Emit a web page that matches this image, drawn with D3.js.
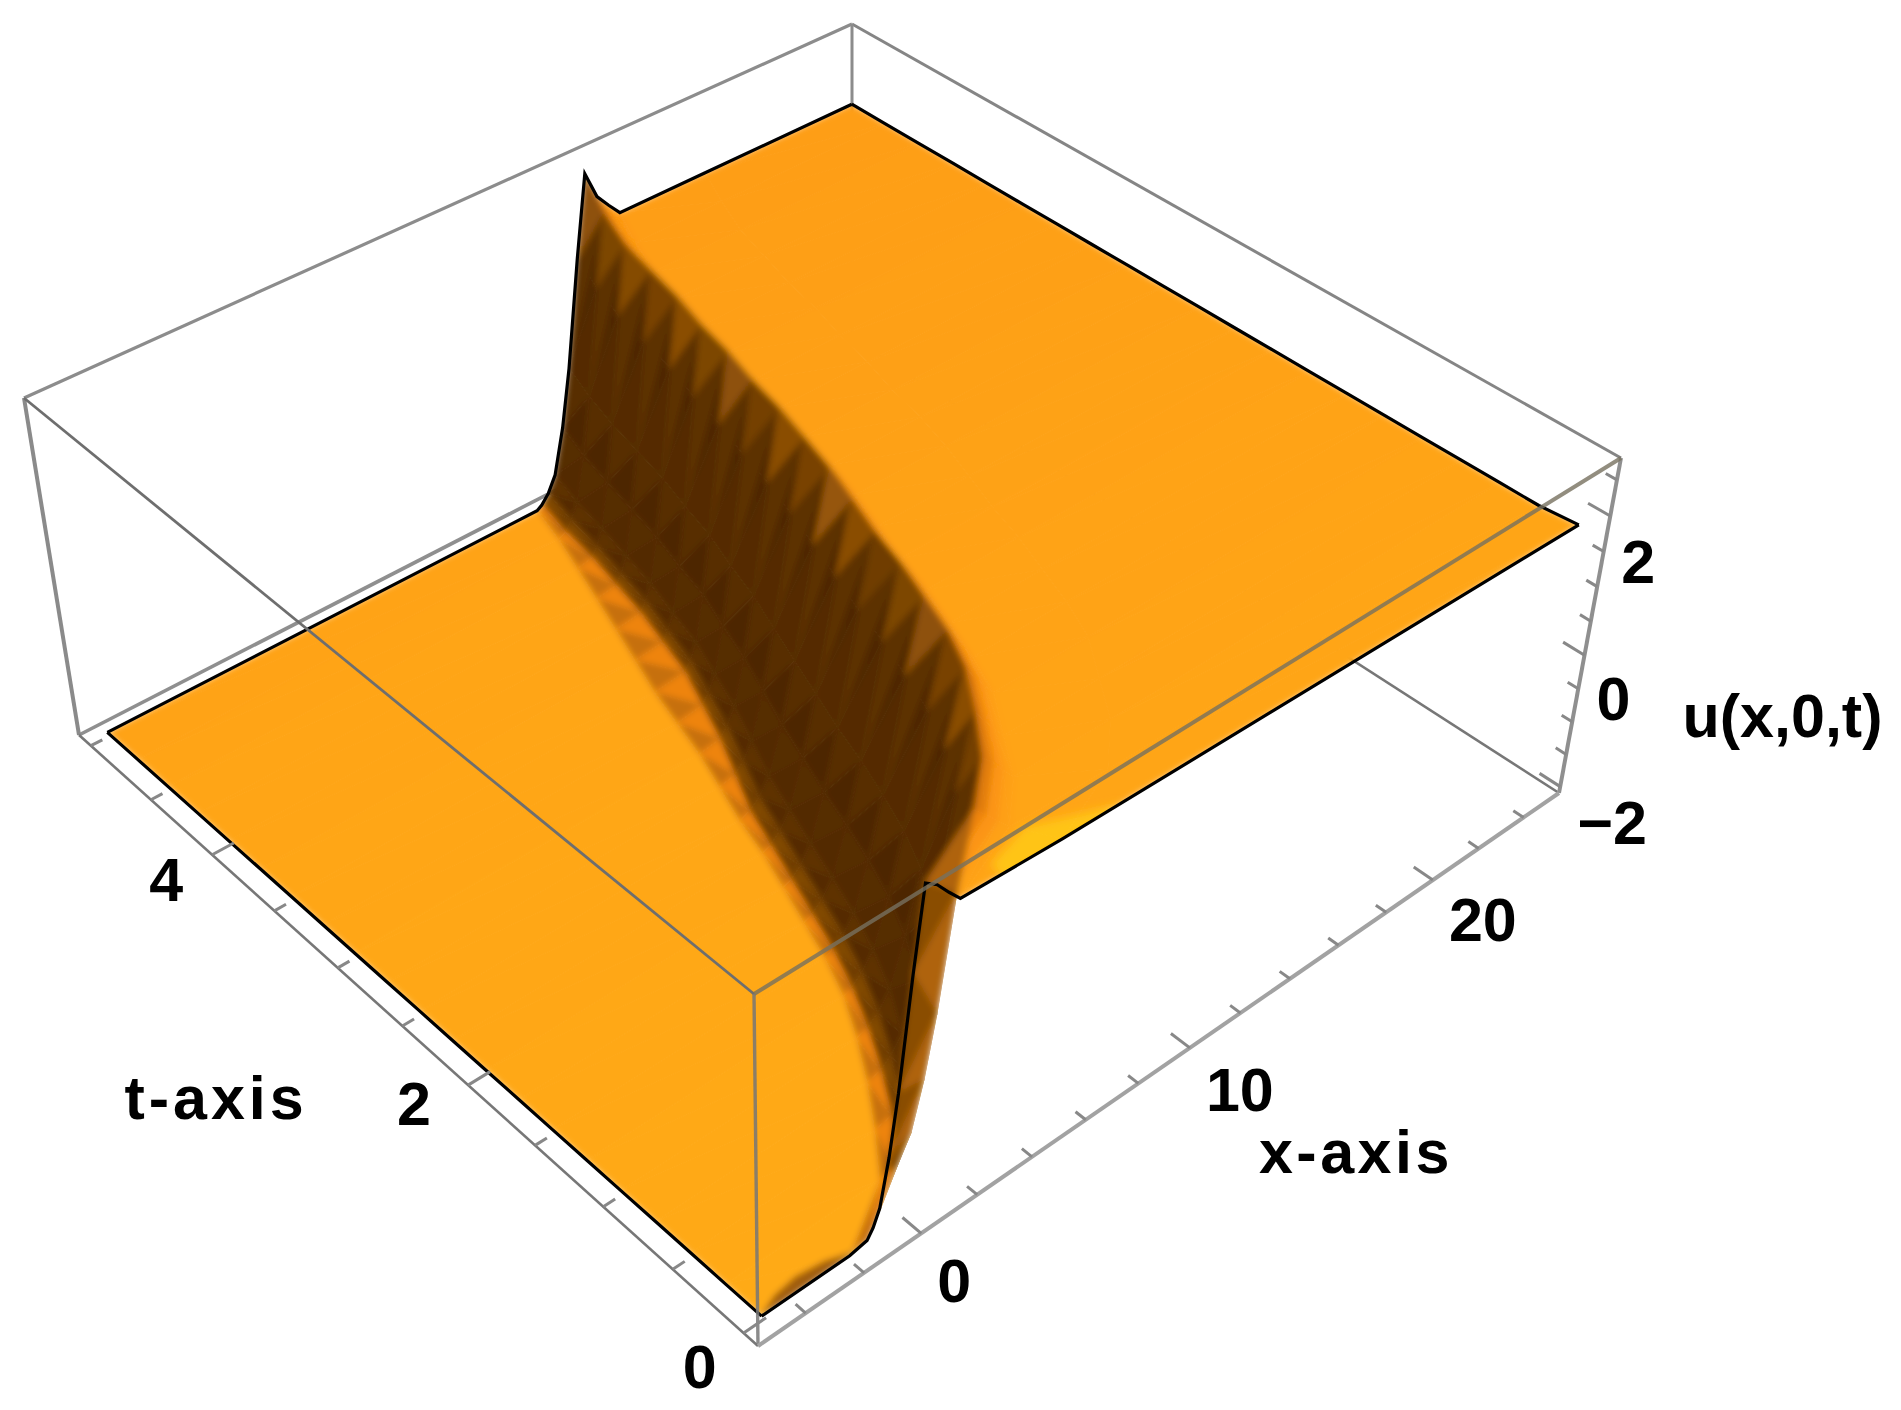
<!DOCTYPE html>
<html>
<head>
<meta charset="utf-8">
<script src="https://d3js.org/d3.v7.min.js"></script>
<style>
  body { margin: 0; background: #fff; }
  text { font-family: "Liberation Sans", Arial, sans-serif; font-weight: bold; font-size: 61px; fill: #000; }
</style>
</head>
<body>
<div id="chart"></div>
<script>
// rows of the surface
var tRows = [0, 0.25, 0.5, 0.75, 1, 1.25, 1.5, 1.75, 2, 2.25, 2.5, 2.75, 3, 3.25, 3.5, 3.75, 4, 4.25, 4.5, 4.75, 5];
// x where the shading begins, where the front lifts, where it peaks and where it reaches the upper plateau
var shadeFoot = [-2.0, 0.3, 1.4, 2.4, 3.3, 4.1, 4.7, 5.2, 5.7, 6.2, 6.6, 7.1, 7.6, 8.0, 8.4, 8.9, 9.4, 9.9, 10.4, 10.9, 11.3];
var kinkFoot = [-1.4, 0.8, 2.0, 2.9, 3.7, 4.4, 5.0, 5.5, 6.0, 6.5, 7.0, 7.7, 8.4, 9.0, 9.6, 10.0, 10.4, 10.7, 11.0, 11.2, 11.5];
var kinkPeak = [0.3, 3.2, 4.8, 5.9, 6.9, 7.6, 8.1, 8.6, 9.0, 9.5, 10.0, 10.4, 10.8, 11.1, 11.5, 11.8, 12.2, 12.5, 12.8, 13.3, 13.9];
var kinkTop = [1.5, 4.5, 6.0, 7.0, 8.0, 8.6, 9.1, 9.6, 10.0, 10.5, 11.0, 11.4, 11.7, 12.1, 12.4, 12.8, 13.1, 13.5, 13.9, 14.5, 15.2];
// extra height of the crest on the end rows
var peakLift = [0.18, 0.05, 0, 0, 0, 0, 0, 0, 0, 0, 0, 0, 0, 0, 0, 0, 0, 0, 0, 0.05, 0.2];
var crestLift = [0.26, 0.1, 0.05, 0, 0, 0, 0, 0, 0, 0, 0, 0, 0, 0, 0, 0, 0, 0, 0, 0, 0];
var shoulderLift = [0.2, 0.05, 0.02, 0, 0, 0, 0, 0, 0, 0, 0, 0, 0, 0, 0, 0, 0, 0, 0, 0, 0];
// height of the surface across the front
var footFrac = [0, 0.12, 0.25, 0.42, 0.58, 0.81, 1];
var footU = [-1.98, -1.85, -1.62, -0.95, -0.1, 1.45, 2.4];
var crestFrac = [0.33, 0.67, 1];
var crestU = [2.2, 2.0, 1.82];
var xEdges = [-5, 25];
var lowU = -2.03, highU = 1.82;
// darkness of the two triangles of each quad, low x to high x
var shadeA = [0, 0.46, 0.84, 0.97, 0.98, 1, 0.97, 1, 0.35, 0.15, 0.04, 0, 0];
var shadeB = [0, 0.3, 0.76, 0.92, 0.96, 0.95, 1, 0.96, 0.35, 0.15, 0.04, 0, 0];
// how light the notch between two teeth is, one value per strip
var notchShade = [0.7, 0.8, 0.82, 0.72, 0.8, 0.7, 0.78, 0.84, 0.72, 0.66, 0.8, 0.72, 0.82, 0.7, 0.78, 0.72, 0.8, 0.74, 0.78, 0.7];
// ticks
var xTicks = [-4, -2, 0, 2, 4, 6, 8, 10, 12, 14, 16, 18, 20, 22, 24];
var xLabels = [0, 10, 20];
var tTicks = [0, 0.5, 1, 1.5, 2, 2.5, 3, 3.5, 4, 4.5, 5];
var tLabels = [0, 2, 4];
var uTicks = [-2, -1.5, -1, -0.5, 0, 0.5, 1, 1.5, 2, 2.5];
var uLabels = [-2, 0, 2];
// shadow along the front edge next to the corner
var shadowX = [-5, -4.3, -3.5, -2.6, -1.8];
var shadowT = [0, 0.05, 0.07, 0.05, 0];
// bright patch on the plateau by the front edge
var glowX = [3.2, 3.4, 5, 7.4, 5.5];
var glowT = [0, 0.16, 0.24, 0.06, -0.04];

var width = 1901, height = 1410;

var svg = d3.select("#chart").append("svg")
  .attr("width", width)
  .attr("height", height);

var xPos = d3.scaleLinear().domain([-5.6, 25.6]).range([0, 1]);
var tPos = d3.scaleLinear().domain([-0.1, 5.1]).range([0, 1]);
var uPos = d3.scaleLinear().domain([-2.1, 2.8]).range([0, 1]);

var darkness = d3.scaleLinear()
  .domain([-1, 0, 0.25, 0.6, 1])
  .range(["#ffc419", "#ffa514", "#fa8a10", "#a35e08", "#4e2802"]);
var plateauTint = d3.scaleLinear().domain([0, 5]).range([0, 0.07]);
var lowTint = d3.scaleLinear().domain([0, 5]).range([-0.15, 0.03]);

// box corners on the page, index [x][t][u]
var corners = [
  [[[758, 1346], [754, 994]], [[79, 735], [24, 398]]],
  [[[1559, 793], [1621, 458]], [[852, 338], [852, 24]]]
];

function project(x, t, u) {
  var X = xPos(x), T = tPos(t), U = uPos(u);
  var sx = 0, sy = 0, sw = 0;
  for (var i = 0; i < 2; i++) for (var j = 0; j < 2; j++) for (var k = 0; k < 2; k++) {
    var b = (i ? X : 1 - X) * (j ? T : 1 - T) * (k ? U : 1 - U);
    var w = b * (1 + 0.17 * i + 0.1 * j - 0.08 * k);
    sx += w * corners[i][j][k][0];
    sy += w * corners[i][j][k][1];
    sw += w;
  }
  return [sx / sw, sy / sw];
}

// columns of one row as [x, u]
function rowColumns(r) {
  var cols = [[xEdges[0], lowU], [shadeFoot[r], lowU]];
  footFrac.forEach(function(f, n) {
    var lift = n == footFrac.length - 1 ? peakLift[r] : 0;
    cols.push([kinkFoot[r] + f * (kinkPeak[r] - kinkFoot[r]), footU[n] + lift]);
  });
  crestFrac.forEach(function(f, n) {
    cols.push([kinkPeak[r] + f * (kinkTop[r] - kinkPeak[r]), crestU[n] + crestLift[r]]);
  });
  cols.push([kinkTop[r] + 3.5, highU + shoulderLift[r]]);
  cols.push([xEdges[1], highU + (r == 0 ? 0.05 : 0)]);
  return cols;
}

var rows = tRows.map(function(t, r) {
  return rowColumns(r).map(function(c) { return project(c[0], t, c[1]); });
});

// build triangles, far strip first, high x first
var tris = [];
for (var s = tRows.length - 2; s >= 0; s--) {
  var near = rows[s], far = rows[s + 1];
  for (var j = near.length - 2; j >= 0; j--) {
    var a = shadeA[j], b = shadeB[j];
    if (j >= 10) { a += plateauTint(tRows[s]); b += plateauTint(tRows[s]); }
    if (j == 0) { a = lowTint(tRows[s]); b = a; }
    // the strip next to the front edge is lit more
    if (s == 0 && j >= 3 && j <= 7) { a = 0.72; b = 0.55; }
    if (s == 0 && j == 8) { a = 0.45; b = 0.3; }
    tris.push({pts: [near[j + 1], far[j], far[j + 1]], shade: b});
    tris.push({pts: [near[j], near[j + 1], far[j]], shade: a});
  }
  // lighter wedges between the dark teeth
  if (s > 0) {
    tris.push({pts: [near[8], far[8], far[6]], shade: 0.93});
    tris.push({pts: [near[8], far[8], far[7]], shade: notchShade[s]});
  }
}
shadowX.forEach(function(x, n) {
  if (n == shadowX.length - 1) return;
  tris.push({pts: [project(x, 0, lowU), project(x, shadowT[n], lowU),
    project(shadowX[n + 1], shadowT[n + 1], lowU), project(shadowX[n + 1], 0, lowU)], shade: 0.62});
});

var pathOf = function(d) { return "M" + d.pts.map(function(p) { return p.join(","); }).join("L") + "Z"; };

var defs = svg.append("defs");
function blur(id, dev) {
  defs.append("filter").attr("id", id)
    .attr("filterUnits", "userSpaceOnUse")
    .attr("x", 0).attr("y", 0).attr("width", width).attr("height", height)
    .append("feGaussianBlur").attr("stdDeviation", dev);
}
blur("soft", 3);
blur("glow", 5);
blur("textSoft", 0.7);
// a mask and not a clip path, the strokes close the seams between triangles
defs.append("mask").attr("id", "surfaceMask")
  .attr("maskUnits", "userSpaceOnUse")
  .attr("x", 0).attr("y", 0).attr("width", width).attr("height", height)
  .selectAll("path").data(tris).enter().append("path")
  .attr("d", pathOf)
  .style("fill", "#fff").style("stroke", "#fff").style("stroke-width", 1);

function boxLine(g, c1, c2, color, w, op) {
  var p = corners[c1[0]][c1[1]][c1[2]], q = corners[c2[0]][c2[1]][c2[2]];
  g.append("line")
    .attr("x1", p[0]).attr("y1", p[1]).attr("x2", q[0]).attr("y2", q[1])
    .style("stroke", color).style("stroke-width", w).style("stroke-opacity", op || 1);
}

// box edges behind the surface
var back = svg.append("g");
boxLine(back, [1, 1, 1], [0, 1, 1], "#8c8c8c", 3.2);
boxLine(back, [1, 1, 1], [1, 0, 1], "#858585", 3);
boxLine(back, [1, 1, 1], [1, 1, 0], "#8c8c8c", 3);
boxLine(back, [0, 1, 0], [1, 1, 0], "#8f8f8f", 3.6);
boxLine(back, [1, 0, 0], [1, 1, 0], "#777", 2.6);
boxLine(back, [0, 1, 1], [0, 1, 0], "#8a8a8a", 4);
boxLine(back, [1, 0, 1], [1, 0, 0], "#8f8f8f", 4);

// surface
var surface = svg.append("g").attr("mask", "url(#surfaceMask)");
surface.append("g").attr("filter", "url(#soft)")
  .selectAll("path").data(tris).enter().append("path")
  .attr("d", pathOf)
  .style("fill", function(d) { return darkness(d.shade); })
  .style("stroke", function(d) { return darkness(d.shade); })
  .style("stroke-width", 1.6)
  .style("stroke-linejoin", "round");
surface.append("path").attr("filter", "url(#glow)")
  .attr("d", d3.line()(glowX.map(function(x, n) { return project(x, glowT[n], highU); })) + "Z")
  .style("fill", darkness(-1));

// mesh boundary
var edgeLine = d3.line();
var outline = svg.append("g").style("fill", "none").style("stroke", "#000").style("stroke-width", 3.2);
outline.append("path").attr("d", edgeLine(rows[0]));
outline.append("path").attr("d", edgeLine(rows[rows.length - 1]));
outline.append("path").attr("d", edgeLine(rows.map(function(r) { return r[0]; })));
outline.append("path").attr("d", edgeLine(rows.map(function(r) { return r[r.length - 1]; })));

// box edges in front of the surface
var front = svg.append("g");
boxLine(front, [0, 1, 1], [0, 0, 1], "#6e6e6e", 2.8);
boxLine(front, [0, 0, 1], [1, 0, 1], "#77705f", 4, 0.8);
boxLine(front, [0, 0, 1], [0, 0, 0], "#777", 3.4, 0.85);
boxLine(front, [0, 1, 0], [0, 0, 0], "#777", 2.6);
boxLine(front, [0, 0, 0], [1, 0, 0], "#a2a2a2", 4);

// ticks, long on the labelled values
var tickG = svg.append("g").style("stroke", "#888").style("stroke-width", 3);
function tick(p, q) {
  tickG.append("line").attr("x1", p[0]).attr("y1", p[1]).attr("x2", q[0]).attr("y2", q[1]);
}
xTicks.forEach(function(v) {
  var len = xLabels.indexOf(v) >= 0 ? 0.13 : 0.07;
  tick(project(v, -0.1, -2.1), project(v, -0.1 + len, -2.1));
});
tTicks.forEach(function(v) {
  var len = tLabels.indexOf(v) >= 0 ? 0.75 : 0.4;
  tick(project(-5.6, v, -2.1), project(-5.6 + len, v, -2.1));
});
uTicks.forEach(function(v) {
  var len = uLabels.indexOf(v) >= 0 ? 0.14 : 0.07;
  tick(project(25.6, -0.1, v), project(25.6, -0.1 + len, v));
});

// labels, nudged one by one
var labels = svg.append("g").attr("filter", "url(#textSoft)")
  .attr("text-anchor", "middle").attr("dominant-baseline", "central");
function label(p, dx, dy, txt, spacing) {
  labels.append("text").attr("x", p[0] + dx).attr("y", p[1] + dy)
    .style("letter-spacing", spacing || 0).text(txt);
}
var xNudge = [[33, 48], [50, 42], [50, 40]];
var tNudge = [[-44, 34], [-54, 19], [-46, 25]];
var uNudge = [[52, 36], [29, 44], [28, 46]];
xLabels.forEach(function(v, n) { label(project(v, -0.1, -2.1), xNudge[n][0], xNudge[n][1], v); });
tLabels.forEach(function(v, n) { label(project(-5.6, v, -2.1), tNudge[n][0], tNudge[n][1], v); });
uLabels.forEach(function(v, n) {
  label(project(25.6, -0.1, v), uNudge[n][0], uNudge[n][1], v < 0 ? "\u2212" + (-v) : v);
});
label(project(10, -0.1, -2.1), 166, 104, "x-axis", "3.5px");
label(project(-5.6, 2, -2.1), -252, 13, "t-axis", "4px");
label(project(25.6, -0.1, 0), 198, 61, "u(x,0,t)");
</script>
</body>
</html>
